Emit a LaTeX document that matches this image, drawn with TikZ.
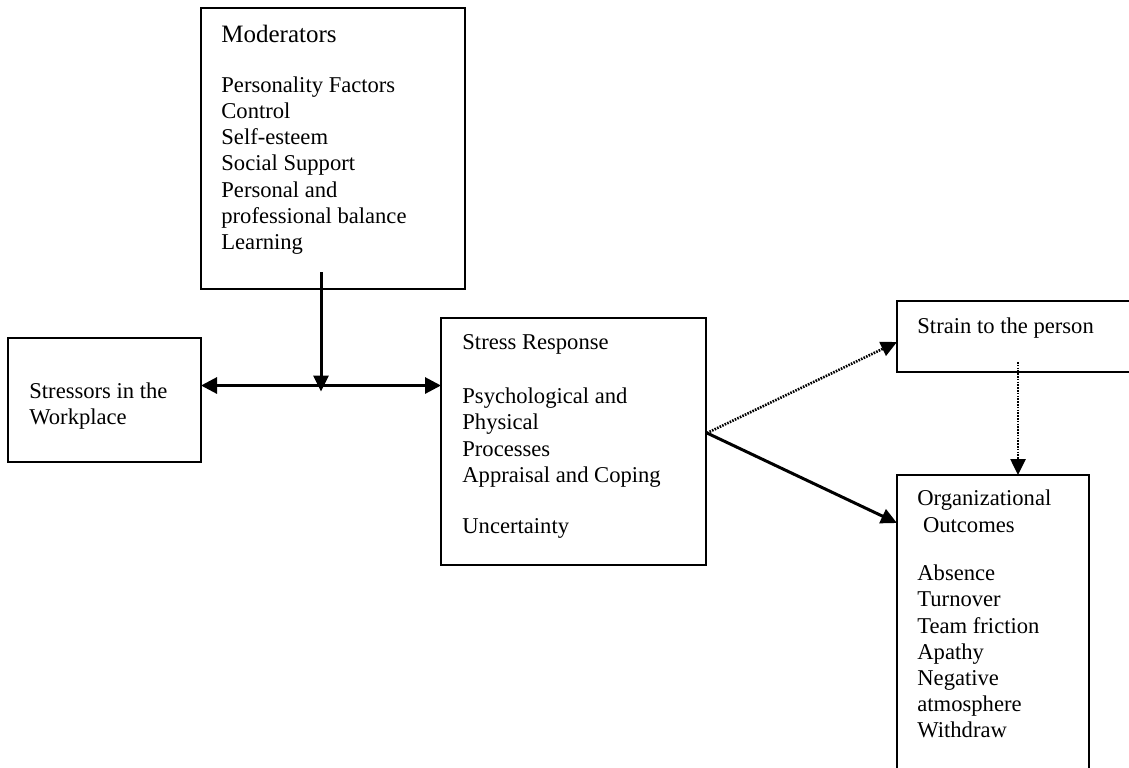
\documentclass[tikz,border=0pt]{standalone}
\usepackage{fontspec}
\setmainfont{Liberation Serif}
\usetikzlibrary{arrows.meta}

\tikzset{
  box/.style={draw, line width=1pt, inner sep=0pt, outer sep=0pt, anchor=north west},
  label/.style={anchor=north west, inner sep=0pt, align=left,
    font=\fontsize{11.3}{13.1}\selectfont},
  tip/.style={-{Triangle[length=8pt,width=7.5pt]}},
  solidlink/.style={line width=1.5pt, tip},
  dotlink/.style={line width=1.3pt, dash pattern=on 0.8pt off 0.6pt, tip},
}
% strut that fixes the first baseline 10pt below a label's top
\newcommand{\fb}{\rule{0pt}{10pt}}

\begin{document}
\begin{tikzpicture}[x=0.5pt, y=-0.5pt]
  \clip (0,0) rectangle (1129,767);

  % boxes
  \node[box, minimum width=132.25pt, minimum height=140.75pt] (mod) at (200.5,7.5) {};
  \node[box, minimum width=96.5pt, minimum height=62pt] (str) at (8,338) {};
  \node[box, minimum width=132.25pt, minimum height=123.5pt] (resp) at (441,317.5) {};
  \node[box, minimum width=121.5pt, minimum height=35.5pt] (strain) at (897,301) {};
  \node[box, minimum width=96pt, minimum height=150pt] (org) at (897,475) {};

  % texts (first baseline 20 units below the anchor)
  \node[label] (modtext) at (221,21.7) {\fb{\fontsize{12.5}{14}\selectfont Moderators}\\[12pt]
    Personality Factors\\ Control\\ Self-esteem\\ Social Support\\ Personal and\\
    professional balance\\ Learning};
  \node[label] (strtext) at (29,378) {\fb Stressors in the\\ Workplace};
  \node[label] (resptext) at (462,329) {\fb Stress Response\\[14pt]
    Psychological and\\ Physical\\ Processes\\ Appraisal and Coping\\[12.4pt] Uncertainty};
  \node[label] (straintext) at (917,313) {\fb Strain to the person};
  \node[label] (orgtext) at (917,485) {\fb Organizational\\[0.4pt] \ Outcomes\\[11pt]
    Absence\\ Turnover\\ Team friction\\ Apathy\\ Negative\\ atmosphere\\ Withdraw};

  % connector points
  \coordinate (modout) at (321,272);
  \coordinate (hline) at (321,385.5);
  \coordinate (meet) at (321,391.5);
  \coordinate (split) at (707,433);
  \coordinate (strainout) at (1018,362);

  % connectors
  \draw[line width=1.5pt, {Triangle[length=8pt,width=8pt]}-{Triangle[length=8pt,width=8pt]}]
    (hline -| str.east) -- (hline -| resp.west);
  \draw[solidlink] (modout) -- (meet);
  \draw[dotlink] (split) -- ([yshift=-2.75pt]strain.west);
  \draw[solidlink] (split) -- ([yshift=-24pt]org.north west);
  \draw[dotlink] (strainout) -- (strainout |- org.north);
\end{tikzpicture}
\end{document}
